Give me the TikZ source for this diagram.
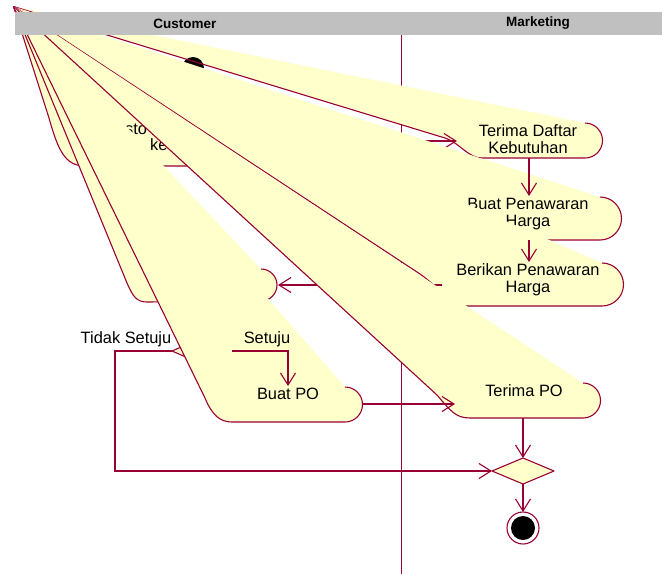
\documentclass[tikz,border=0pt]{standalone}
\usepackage{fontspec}
\setmainfont{Liberation Sans}
\usetikzlibrary{arrows.meta}
\definecolor{rose}{RGB}{153,0,51}
\definecolor{fillY}{RGB}{255,255,204}
\definecolor{hdr}{RGB}{192,192,192}
\begin{document}
\begin{tikzpicture}[x=1pt,y=-1pt,
  actfill/.style={fill=fillY,draw=none},
  edge/.style={draw=rose,line width=1.1pt,line join=round},
  arr/.style={draw=rose,line width=1.1pt,-{Straight Barb[length=12pt,width=15pt]}},
  lbl/.style={inner sep=0pt,align=center,font=\fontsize{16.4}{17}\selectfont,text=black},
  hd/.style={inner sep=0pt,font=\fontsize{13.5}{15}\selectfont\bfseries,text=black}]
\useasboundingbox (0,0) rectangle (662,574);
\coordinate (apex) at (13.5,6.5);
% lane divider
\coordinate (divT) at (401.7,35);
\coordinate (divB) at (401.7,574);
\draw[edge] (divT) -- (divB);
% --- customer activity (mostly hidden)
\fill[actfill] (apex) -- (265,116) .. controls (278.8,116) and (290,127.2) .. (290,141) .. controls (290,154.8) and (278.8,166) .. (265,166) -- (85,166) .. controls (65,166) and (58,150) .. (49,118) -- cycle;
\draw[edge] (265,116) .. controls (278.8,116) and (290,127.2) .. (290,141) .. controls (290,154.8) and (278.8,166) .. (265,166) -- (85,166) .. controls (65,166) and (58,150) .. (49,118) -- (apex);
\node[lbl,anchor=base west] (sdkA) at (125,134) {sto};
\node[lbl,anchor=base west] (sdkB) at (150,150) {ke};
% --- Terima Daftar Kebutuhan
\fill[actfill] (apex) -- (585,123) .. controls (594.67,123) and (602.5,130.83) .. (602.5,140.5) .. controls (602.5,150.17) and (594.67,158) .. (585,158) -- (482,158) .. controls (468,158) and (460,143) .. (445,138) -- cycle;
\node[lbl] (tdk) at (528,139) {Terima Daftar\\Kebutuhan};
\coordinate (initC) at (193,68);
\fill[black] (initC) circle[radius=11pt];
\draw[edge] (585,123) .. controls (594.67,123) and (602.5,130.83) .. (602.5,140.5) .. controls (602.5,150.17) and (594.67,158) .. (585,158) -- (482,158) .. controls (468,158) and (460,143) .. (445,138) -- (apex);
\coordinate (sdkR) at (290,141);
\coordinate (tdkIn) at (457,141);
\draw[arr] (sdkR) -- (tdkIn);
% --- Buat Penawaran Harga
\fill[actfill] (apex) -- (600,197) .. controls (611.87,197) and (621.5,206.63) .. (621.5,218.5) .. controls (621.5,230.37) and (611.87,240) .. (600,240) -- (480,240) .. controls (468,240) and (460,232) .. (450,225) -- cycle;
\draw[edge] (600,197) .. controls (611.87,197) and (621.5,206.63) .. (621.5,218.5) .. controls (621.5,230.37) and (611.87,240) .. (600,240) -- (480,240) .. controls (468,240) and (460,232) .. (450,225) -- (apex);
\node[lbl] (bph) at (528,214) {Buat Penawaran\\Harga};
\coordinate (tdkB) at (529,158);
\coordinate (bphT) at (529,196);
\draw[arr] (tdkB) -- (bphT);
% --- Berikan Penawaran Harga
\fill[actfill] (apex) -- (602,263) .. controls (613.87,263) and (623.5,272.63) .. (623.5,284.5) .. controls (623.5,296.37) and (613.87,306) .. (602,306) -- (467,306) .. controls (450,306) and (440,288) .. (420,274) -- cycle;
\draw[edge] (602,263) .. controls (613.87,263) and (623.5,272.63) .. (623.5,284.5) .. controls (623.5,296.37) and (613.87,306) .. (602,306) -- (467,306) .. controls (450,306) and (440,288) .. (420,274) -- (apex);
\node[lbl] (brph) at (528,280) {Berikan Penawaran\\Harga};
\coordinate (bphB) at (529,240);
\coordinate (brphT) at (529,262);
\draw[arr] (bphB) -- (brphT);
\coordinate (brphL) at (442,285);
\coordinate (tpR) at (278,285);
\draw[arr] (brphL) -- (tpR);
% --- customer activity receiving the offer
\fill[actfill] (apex) -- (261,269) .. controls (269.84,269) and (277,276.16) .. (277,285) .. controls (277,293.84) and (269.84,301) .. (261,301) -- (147,302) .. controls (137,302) and (133,297) .. (127,283) -- cycle;
\draw[edge] (261,269) .. controls (269.84,269) and (277,276.16) .. (277,285) .. controls (277,293.84) and (269.84,301) .. (261,301) -- (147,302) .. controls (137,302) and (133,297) .. (127,283) -- (apex);
% --- decision
\coordinate (decL) at (172,351);
\coordinate (decT) at (202,338);
\coordinate (decR) at (232,351);
\coordinate (decB) at (202,364);
\filldraw[fill=fillY,edge] (decL) -- (decT) -- (decR) -- (decB) -- cycle;
% --- Terima PO
\fill[actfill] (apex) -- (583,383) .. controls (592.67,383) and (600.5,390.83) .. (600.5,400.5) .. controls (600.5,410.17) and (592.67,418) .. (583,418) -- (470,418) .. controls (455,418) and (450,410) .. (437,395) -- cycle;
\draw[edge] (583,383) .. controls (592.67,383) and (600.5,390.83) .. (600.5,400.5) .. controls (600.5,410.17) and (592.67,418) .. (583,418) -- (470,418) .. controls (455,418) and (450,410) .. (437,395) -- (apex);
\node[lbl] (tpo) at (524,391) {Terima PO};
% --- Buat PO
\fill[actfill] (apex) -- (345,387) .. controls (354.67,387) and (362.5,394.83) .. (362.5,404.5) .. controls (362.5,414.17) and (354.67,422) .. (345,422) -- (232,422) .. controls (220,422) and (212,415) .. (205,398) -- cycle;
\draw[edge] (345,387) .. controls (354.67,387) and (362.5,394.83) .. (362.5,404.5) .. controls (362.5,414.17) and (354.67,422) .. (345,422) -- (232,422) .. controls (220,422) and (212,415) .. (205,398) -- (apex);
\node[lbl] (bpo) at (288,394) {Buat PO};
% --- guards and flows
\node[lbl] (gYes) at (267,339) {Setuju};
\node[lbl] (gNo) at (126,339) {Tidak Setuju};
\coordinate (yesK) at (288,351);
\coordinate (bpoT) at (288,386);
\draw[arr] (decR) -- (yesK) -- (bpoT);
\coordinate (noK1) at (115,351);
\coordinate (noK2) at (115,471);
\coordinate (mL) at (492,471);
\coordinate (mT) at (523,458);
\coordinate (mR) at (554,471);
\coordinate (mB) at (523,484);
\draw[arr] (decL) -- (noK1) -- (noK2) -- (mL);
\coordinate (bpoR) at (362.5,404);
\coordinate (tpoL) at (455,404);
\draw[arr] (bpoR) -- (tpoL);
\coordinate (tpoB) at (523,418);
\draw[arr] (tpoB) -- (mT);
\filldraw[fill=fillY,edge] (mL) -- (mT) -- (mR) -- (mB) -- cycle;
\coordinate (finC) at (523,528);
\coordinate (finT) at (523,512);
\draw[arr] (mB) -- (finT);
\draw[edge,fill=white] (finC) circle[radius=16pt];
\fill[black] (finC) circle[radius=12pt];
% --- header
\fill[hdr] (15,12) rectangle (662,35);
\node[hd] (hCust) at (185,23.5) {Customer};
\node[hd] (hMkt) at (538,23.5) {Marketing};
\end{tikzpicture}
\end{document}
